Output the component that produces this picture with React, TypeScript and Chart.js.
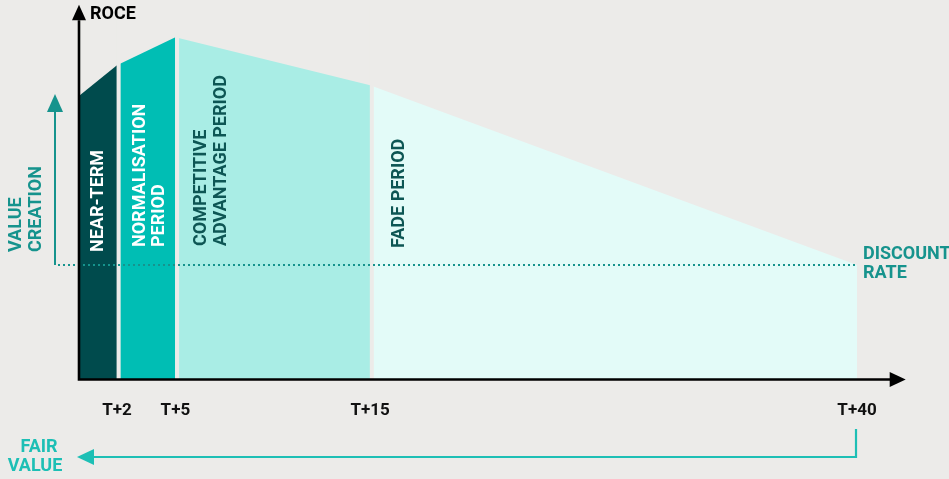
import React, { useEffect, useRef } from "react";
import { Chart, registerables } from "chart.js";

Chart.register(...registerables);

// Life-cycle of returns: ROCE path across the four forecast periods
const periodNames = ["NEAR-TERM", "NORMALISATION PERIOD", "COMPETITIVE ADVANTAGE PERIOD", "FADE PERIOD"];
const periodYears = [0, 2, 5, 15, 40];
const roceAtYear = [19.7, 21.9, 23.85, 20.5, 8.0];
const tickYears = [2, 5, 15, 40];
const discountRate = 8;

const BG = "#ecebe9";
const periodColors = ["#004b4d", "#00beb4", "#a9ede5", "#e3fbf8"];
const periodTextColors = ["#ffffff", "#ffffff", "#0d5654", "#0d5654"];
const TEAL = "#16938d";
const BRIGHT_TEAL = "#1dbfb5";
const FONT = "Roboto, 'Liberation Sans', Arial, sans-serif";

function rotatedLines(ctx: CanvasRenderingContext2D, lines: string[], x: number, bottom: number, lineGap: number, color: string) {
  ctx.save();
  ctx.translate(x, bottom);
  ctx.rotate(-Math.PI / 2);
  ctx.fillStyle = color;
  ctx.textAlign = "left";
  ctx.textBaseline = "middle";
  lines.forEach((l, i) => ctx.fillText(l, 0, i * lineGap));
  ctx.restore();
}

const diagramPlugin = {
  id: "diagram",
  afterDatasetsDraw(chart: any) {
    const { ctx, chartArea, scales } = chart;
    const xs = scales.x;
    const ys = scales.y;
    // thin background-coloured gaps between the periods
    ctx.save();
    ctx.fillStyle = BG;
    for (let i = 1; i < periodYears.length - 1; i++) {
      const px = xs.getPixelForValue(periodYears[i]);
      ctx.fillRect(px - 0.3, chartArea.top, 4, chartArea.bottom - chartArea.top);
    }
    ctx.restore();

    // period labels, rotated
    ctx.save();
    ctx.font = `bold 18px ${FONT}`;
    const splits = [["NEAR-TERM"], ["NORMALISATION", "PERIOD"], ["COMPETITIVE", "ADVANTAGE PERIOD"], ["FADE PERIOD"]];
    periodNames.forEach((_, i) => {
      const x0 = xs.getPixelForValue(periodYears[i]);
      const x1 = xs.getPixelForValue(periodYears[i + 1]);
      let cx: number;
      let bottom = 247;
      let gap = 19;
      if (i === 0) {
        cx = (x0 + x1) / 2 + 1;
        bottom = 252;
      } else if (i === 1) {
        cx = x0 + 24;
        gap = 18.5;
      } else if (i === 2) {
        cx = x0 + 26.5;
        gap = 20;
        bottom = 246;
      } else {
        cx = x0 + 29.5;
        bottom = 248;
      }
      rotatedLines(ctx, splits[i], cx, bottom, gap, periodTextColors[i]);
    });
    ctx.restore();

    // discount-rate dotted line
    const dy = ys.getPixelForValue(discountRate);
    const xEnd = xs.getPixelForValue(periodYears[periodYears.length - 1]);
    ctx.save();
    ctx.strokeStyle = TEAL;
    ctx.lineWidth = 2;
    ctx.setLineDash([2, 3]);
    ctx.beginPath();
    ctx.moveTo(58, dy);
    ctx.lineTo(xEnd, dy);
    ctx.stroke();
    ctx.restore();

    // axes with arrowheads
    const ax = chartArea.left + 1;
    const ay = chartArea.bottom - 0.5;
    ctx.save();
    ctx.strokeStyle = "#000";
    ctx.fillStyle = "#000";
    ctx.lineWidth = 2.6;
    ctx.beginPath();
    ctx.moveTo(ax, ay + 1.3);
    ctx.lineTo(ax, chartArea.top + 14);
    ctx.moveTo(ax - 1.3, ay);
    ctx.lineTo(chartArea.right - 15, ay);
    ctx.stroke();
    ctx.beginPath();
    ctx.moveTo(ax, chartArea.top - 1.5);
    ctx.lineTo(ax - 7, chartArea.top + 14);
    ctx.lineTo(ax + 7, chartArea.top + 14);
    ctx.closePath();
    ctx.fill();
    ctx.beginPath();
    ctx.moveTo(chartArea.right, ay);
    ctx.lineTo(chartArea.right - 16, ay - 7.5);
    ctx.lineTo(chartArea.right - 16, ay + 7.5);
    ctx.closePath();
    ctx.fill();
    ctx.restore();

    // value creation arrow
    ctx.save();
    ctx.strokeStyle = TEAL;
    ctx.fillStyle = TEAL;
    ctx.lineWidth = 2;
    ctx.beginPath();
    ctx.moveTo(55, dy);
    ctx.lineTo(55, 110);
    ctx.stroke();
    ctx.beginPath();
    ctx.moveTo(55, 94);
    ctx.lineTo(47, 112);
    ctx.lineTo(63, 112);
    ctx.closePath();
    ctx.fill();
    ctx.restore();

    // fair value arrow
    ctx.save();
    ctx.strokeStyle = BRIGHT_TEAL;
    ctx.fillStyle = BRIGHT_TEAL;
    ctx.lineWidth = 2.2;
    ctx.beginPath();
    ctx.moveTo(xEnd - 1, 429);
    ctx.lineTo(xEnd - 1, 457);
    ctx.lineTo(92, 457);
    ctx.stroke();
    ctx.beginPath();
    ctx.moveTo(77, 457);
    ctx.lineTo(94, 449);
    ctx.lineTo(94, 465);
    ctx.closePath();
    ctx.fill();
    ctx.restore();

    // texts
    ctx.save();
    ctx.font = `bold 18px ${FONT}`;
    ctx.textBaseline = "middle";
    ctx.fillStyle = "#000";
    ctx.textAlign = "left";
    ctx.fillText("ROCE", 90, 14);
    ctx.fillStyle = TEAL;
    ctx.fillText("DISCOUNT", 863, 254);
    ctx.fillText("RATE", 863, 273.5);
    ctx.fillStyle = BRIGHT_TEAL;
    ctx.textAlign = "center";
    ctx.fillText("FAIR", 39, 447);
    ctx.fillText("VALUE", 35, 466.5);
    ctx.restore();
    ctx.save();
    ctx.font = `bold 18px ${FONT}`;
    rotatedLines(ctx, ["VALUE", "CREATION"], 16, 252, 20, TEAL);
    ctx.restore();
  },
};

export default function App() {
  const canvasRef = useRef<HTMLCanvasElement | null>(null);

  useEffect(() => {
    if (!canvasRef.current) return;
    const datasets = periodNames.map((name, i) => ({
      label: name,
      data: [
        { x: periodYears[i], y: roceAtYear[i] },
        { x: periodYears[i + 1], y: roceAtYear[i + 1] },
      ],
      backgroundColor: periodColors[i],
      borderWidth: 0,
      pointRadius: 0,
      tension: 0,
      fill: "origin",
    }));

    const chart = new Chart(canvasRef.current, {
      type: "line",
      data: { datasets },
      options: {
        animation: false,
        responsive: false,
        devicePixelRatio: 1,
        layout: { padding: { left: 78, right: 43.3, top: 6.25, bottom: 36.6 } },
        plugins: { legend: { display: false }, tooltip: { enabled: false } },
        scales: {
          x: {
            type: "linear",
            min: 0,
            max: 42.5,
            grid: { display: false, drawTicks: false },
            border: { display: false },
            afterBuildTicks: (scale: any) => {
              scale.ticks = tickYears.map((v) => ({ value: v }));
            },
            ticks: {
              padding: 21,
              color: "#111",
              autoSkip: false,
              maxRotation: 0,
              font: { family: FONT, weight: "bold", size: 17 },
              callback: (v: any) => `T+${v}`,
            },
          },
          y: { display: false, min: 0, max: 26 },
        },
      },
      plugins: [diagramPlugin],
    } as any);
    return () => chart.destroy();
  }, []);

  return (
    <div style={{ position: "fixed", left: 0, top: 0, width: 949, height: 479, background: BG }}>
      <canvas ref={canvasRef} width={949} height={479} style={{ display: "block" }} />
    </div>
  );
}
